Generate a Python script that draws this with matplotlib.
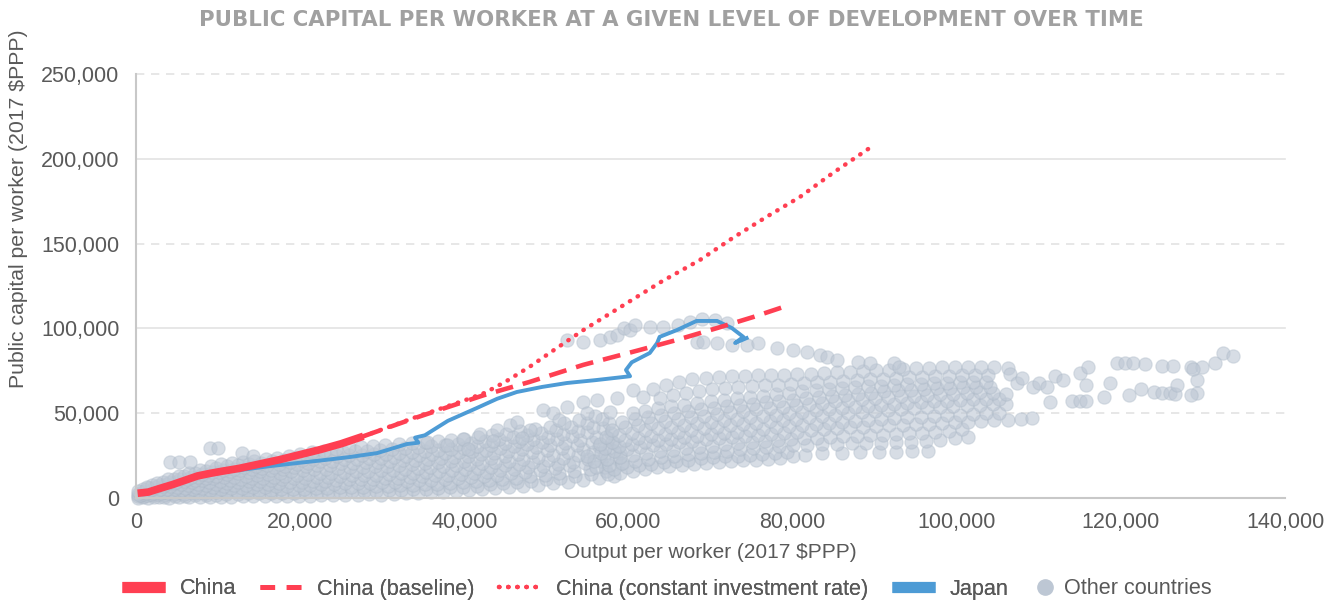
import numpy as np
import matplotlib.pyplot as plt
from matplotlib.lines import Line2D

# all values, in thousands of 2017 $PPP (x = output per worker, y = public capital per worker)
china_x = [0.2, 1.5, 3.0, 4.5, 6.0, 7.5, 9.0, 10.5, 12.5, 15.0, 17.5, 20.0, 22.5, 25.0, 27.7]
china_y = [2.8, 3.5, 5.8, 8.0, 10.5, 13.0, 14.5, 15.8, 17.4, 20.0, 22.6, 25.6, 28.6, 32.0, 36.4]

baseline_x = [27.7, 34.2, 42.3, 48.0, 54.5, 61.4, 65.9, 70.8, 75.2, 79.6]
baseline_y = [36.4, 47.5, 60.5, 68.5, 78.5, 87.3, 93.2, 100.2, 106.7, 113.8]

const_inv_x = [27.7, 34.0, 40.0, 42.5, 45.0, 48.0, 51.0, 54.5, 60.0, 64.0, 68.7, 72.7, 76.8, 80.9, 84.9, 89.4]
const_inv_y = [36.4, 47.5, 57.5, 62.0, 68.5, 77.5, 87.5, 99.0, 115.5, 127.5, 140.3, 153.3, 165.7, 177.5, 191.6, 206.4]

japan_x = [12.7, 16.0, 19.6, 23.0, 26.1, 29.4, 33.0, 34.4, 34.0, 35.2, 38.0, 41.5, 44.0, 46.4, 49.5, 52.5,
           56.0, 59.3, 60.2, 59.7, 60.4, 62.0, 62.6, 63.5, 63.8, 65.9, 68.3, 70.8, 72.6, 74.0, 73.0, 74.4]
japan_y = [16.5, 18.6, 20.6, 22.4, 24.2, 26.5, 31.8, 32.6, 35.6, 37.0, 45.5, 53.0, 58.5, 62.5, 65.5, 67.8,
           69.5, 71.3, 71.8, 75.5, 80.0, 84.0, 85.5, 91.4, 95.0, 99.0, 104.4, 104.4, 100.2, 95.0, 91.4, 94.3]

# other countries, low and middle income block
other_low_1 = [(0.3, 0.2), (1.5, 0.1), (2.8, 0.3), (4.0, 0.2), (5.3, 0.4), (6.5, 0.3), (7.8, 0.5), (9.0, 0.6),
               (10.4, 0.8), (11.6, 0.7), (13.0, 1.0), (14.3, 1.1), (15.7, 1.0), (17.0, 1.2), (18.4, 1.3),
               (19.8, 1.1), (21.2, 1.4), (22.6, 1.6), (24.0, 1.5), (25.5, 1.8), (27.0, 1.9), (28.4, 2.1),
               (29.9, 2.0), (31.4, 2.5), (32.9, 2.8), (34.4, 3.0), (35.9, 3.3), (37.4, 3.6), (39.0, 4.0),
               (40.6, 4.6), (42.2, 5.2), (43.8, 5.7), (45.5, 6.3), (47.2, 7.0), (49.0, 7.8), (50.8, 8.6),
               (52.6, 9.5), (54.5, 10.6), (56.4, 11.8), (58.3, 13.0)]
other_low_1b = [(0.9, 0.4), (2.2, 0.5), (3.4, 0.8), (4.7, 1.0), (6.0, 1.2), (7.2, 1.5), (8.5, 1.7), (9.8, 2.0),
                (11.0, 2.3), (12.4, 2.5), (13.7, 2.7), (15.0, 2.9), (16.4, 3.0), (17.8, 3.1), (19.2, 3.2),
                (20.6, 3.3), (22.0, 3.5), (23.4, 3.7), (24.8, 3.8), (26.3, 4.0), (27.8, 4.2), (29.3, 4.4),
                (30.8, 4.6), (32.3, 4.9), (33.8, 5.3), (35.3, 5.6), (36.8, 6.0), (38.3, 6.3), (39.9, 6.6),
                (41.5, 7.3), (43.1, 8.0), (44.7, 8.7), (46.4, 9.4), (48.1, 10.2), (49.9, 11.0), (51.7, 12.0),
                (53.5, 13.2), (55.4, 14.3), (57.3, 15.8)]
other_low_2 = [(0.9, 1.0), (2.1, 1.5), (3.4, 1.9), (4.6, 2.4), (5.9, 2.4), (7.2, 2.8), (8.4, 3.2), (9.7, 3.6),
               (11.0, 4.0), (12.3, 4.2), (13.7, 4.5), (15.0, 4.6), (16.4, 5.0), (17.7, 5.2), (19.1, 5.3),
               (20.5, 5.6), (21.9, 5.8), (23.3, 6.0), (24.8, 6.2), (26.2, 6.5), (27.7, 6.6), (29.2, 6.9),
               (30.7, 7.0), (32.2, 7.4), (33.7, 7.8), (35.2, 8.1), (36.7, 8.5), (38.2, 8.9), (39.8, 9.3),
               (41.4, 10.0), (43.0, 10.6), (44.6, 11.3), (46.3, 12.0), (48.0, 12.9), (49.8, 13.6), (51.6, 14.8),
               (53.4, 15.8), (55.3, 17.0), (57.2, 18.4), (59.1, 19.8)]
other_low_2b = [(0.2, 1.0), (1.4, 1.5), (2.7, 2.2), (3.9, 2.8), (5.2, 3.4), (6.5, 3.9), (7.7, 4.4), (9.0, 4.9),
                (10.3, 5.5), (11.6, 5.8), (12.9, 6.1), (14.3, 6.4), (15.7, 6.7), (17.0, 7.0), (18.4, 7.3),
                (19.8, 7.5), (21.2, 7.8), (22.6, 8.1), (24.1, 8.4), (25.5, 8.6), (27.0, 8.9), (28.5, 9.1),
                (30.0, 9.3), (31.5, 9.7), (33.0, 10.1), (34.5, 10.4), (36.0, 10.9), (37.6, 11.3), (39.2, 11.7),
                (40.8, 12.3), (42.4, 13.1), (44.0, 13.8), (45.7, 14.7), (47.4, 15.6), (49.2, 16.5), (51.0, 17.8),
                (52.8, 19.2), (54.7, 20.5), (56.6, 22.0), (58.5, 23.6)]
other_low_3 = [(0.5, 1.5), (1.8, 2.4), (3.0, 3.2), (4.3, 4.0), (5.6, 4.6), (6.9, 5.3), (8.1, 6.0), (9.4, 6.6),
               (10.7, 7.0), (12.0, 7.4), (13.4, 7.8), (14.7, 8.1), (16.1, 8.5), (17.4, 8.9), (18.8, 9.2),
               (20.2, 9.6), (21.6, 9.9), (23.0, 10.3), (24.4, 10.6), (25.9, 11.0), (27.4, 11.2), (28.9, 11.4),
               (30.4, 11.7), (31.9, 12.0), (33.4, 12.4), (34.9, 12.9), (36.4, 13.3), (38.0, 13.8), (39.6, 14.2),
               (41.2, 14.8), (42.8, 15.5), (44.4, 16.3), (46.1, 17.2), (47.8, 18.0), (49.6, 19.0), (51.4, 20.0),
               (53.2, 21.4), (55.1, 23.0), (57.0, 24.6), (59.0, 26.4)]
other_low_3b = [(0.9, 2.3), (2.1, 3.2), (3.4, 4.3), (4.7, 5.2), (6.0, 5.9), (7.3, 6.7), (8.5, 7.5), (9.8, 8.3),
                (11.1, 8.9), (12.4, 9.3), (13.8, 9.8), (15.1, 10.1), (16.5, 10.6), (17.8, 11.0), (19.2, 11.5),
                (20.6, 11.9), (22.0, 12.3), (23.4, 12.6), (24.9, 13.0), (26.3, 13.4), (27.8, 13.6), (29.3, 13.8),
                (30.8, 14.1), (32.3, 14.5), (33.8, 15.0), (35.3, 15.5), (36.9, 16.0), (38.5, 16.5), (40.1, 17.0),
                (41.7, 17.6), (43.3, 18.4), (45.0, 19.3), (46.7, 20.2), (48.4, 21.2), (50.2, 22.4), (52.0, 23.8),
                (53.8, 25.4), (55.7, 27.2), (57.6, 29.2)]
other_low_4 = [(1.2, 2.8), (2.5, 4.0), (3.8, 5.2), (5.0, 6.5), (6.3, 7.4), (7.6, 8.3), (8.9, 9.2), (10.2, 10.1),
               (11.5, 10.6), (12.8, 11.0), (14.1, 11.5), (15.5, 12.0), (16.8, 12.4), (18.2, 12.9), (19.6, 13.6),
               (21.0, 14.2), (22.4, 14.6), (23.8, 15.0), (25.3, 15.6), (26.8, 16.0), (28.3, 16.2), (29.8, 16.4),
               (31.3, 16.8), (32.8, 17.2), (34.3, 17.7), (35.8, 18.2), (37.4, 18.6), (39.0, 19.2), (40.6, 19.8),
               (42.2, 20.4), (43.8, 21.2), (45.5, 22.1), (47.2, 23.0), (49.0, 24.2), (50.8, 25.6), (52.6, 27.0),
               (54.5, 28.8), (56.4, 30.6), (58.3, 32.6)]
other_low_4b = [(0.3, 2.6), (1.6, 4.0), (2.9, 5.6), (4.2, 6.9), (5.5, 8.2), (6.8, 9.4), (8.1, 10.6), (9.4, 11.6),
                (10.7, 12.1), (12.0, 12.6), (13.4, 13.2), (14.8, 13.8), (16.1, 14.4), (17.5, 15.0), (18.9, 15.8),
                (20.3, 16.4), (21.7, 16.9), (23.2, 17.3), (24.6, 17.9), (26.1, 18.3), (27.6, 18.5), (29.1, 18.8),
                (30.6, 19.1), (32.1, 19.6), (33.6, 20.1), (35.2, 20.6), (36.8, 21.1), (38.4, 21.7), (40.0, 22.1),
                (41.6, 22.9), (43.2, 23.8), (44.9, 24.7), (46.6, 25.7), (48.3, 26.9), (50.1, 28.1), (51.9, 29.6),
                (53.7, 31.2), (55.6, 33.2), (57.5, 35.6)]
other_low_5 = [(0.8, 3.5), (2.0, 5.6), (3.3, 7.3), (4.6, 8.6), (5.9, 9.8), (7.2, 10.8), (8.5, 12.0), (9.8, 13.2),
               (11.1, 13.9), (12.4, 14.5), (13.8, 15.1), (15.1, 15.7), (16.5, 16.4), (17.9, 17.2), (19.3, 18.0),
               (20.7, 18.6), (22.1, 19.2), (23.6, 19.7), (25.0, 20.4), (26.5, 20.8), (28.0, 21.0), (29.5, 21.3),
               (31.0, 21.7), (32.5, 22.2), (34.0, 22.7), (35.6, 23.2), (37.2, 23.8), (38.8, 24.4), (40.4, 25.0),
               (42.0, 25.8), (43.6, 26.6), (45.3, 27.6), (47.0, 28.6), (48.7, 29.8), (50.5, 31.2), (52.3, 32.6),
               (54.1, 34.4), (56.0, 36.2), (57.9, 38.2)]
other_low_5b = [(1.0, 4.0), (2.3, 6.4), (3.6, 8.4), (4.9, 9.6), (6.2, 11.2), (7.5, 12.4), (8.8, 13.8), (10.1, 15.1),
                (11.4, 15.8), (12.7, 16.3), (14.1, 16.9), (15.4, 17.5), (16.8, 18.4), (18.2, 19.1), (19.6, 20.1),
                (21.0, 20.9), (22.4, 21.6), (23.9, 22.1), (25.4, 22.8), (26.9, 23.2), (28.4, 23.4), (29.9, 23.7),
                (31.4, 24.1), (32.9, 24.6), (34.5, 25.2), (36.1, 25.8), (37.7, 26.4), (39.3, 27.0), (40.9, 27.6),
                (42.6, 28.4), (44.3, 29.4), (46.0, 30.6), (47.7, 31.6), (49.5, 33.0), (51.3, 34.6), (53.1, 36.4),
                (55.0, 38.8), (56.9, 41.2)]
other_low_6 = [(1.5, 5.8), (2.8, 7.8), (4.1, 9.6), (5.4, 11.1), (6.7, 12.5), (8.0, 13.9), (9.3, 15.4), (10.6, 16.8),
               (11.9, 17.3), (13.2, 18.0), (14.6, 18.6), (16.0, 19.3), (17.4, 20.2), (18.8, 21.0), (20.2, 22.4),
               (21.6, 23.0), (23.0, 23.8), (24.5, 24.5), (26.0, 25.3), (27.5, 25.6), (29.0, 25.8), (30.5, 26.1),
               (32.0, 26.6), (33.6, 27.2), (35.2, 27.8), (36.8, 28.4), (38.4, 29.0), (40.0, 29.6), (41.6, 30.4),
               (43.3, 31.3), (45.0, 32.4), (46.7, 33.4), (48.4, 34.6), (50.2, 36.0), (52.0, 37.8), (53.8, 39.6),
               (55.7, 41.8), (57.6, 44.0)]
other_low_6b = [(0.8, 5.2), (2.0, 7.4), (3.3, 9.2), (4.6, 11.3), (5.9, 13.2), (7.2, 14.6), (8.5, 16.2), (9.8, 17.8),
                (11.1, 18.6), (12.4, 19.4), (13.8, 20.0), (15.2, 20.8), (16.6, 21.6), (18.0, 22.4), (19.4, 23.6),
                (20.8, 24.6), (22.2, 25.4), (23.7, 26.2), (25.2, 27.1), (26.7, 27.6), (28.2, 27.9), (29.7, 28.3),
                (31.2, 28.8), (32.8, 29.4), (34.4, 30.0), (36.0, 30.6), (37.6, 31.2), (39.2, 31.8), (40.8, 32.6),
                (42.5, 33.6), (44.2, 34.7), (45.9, 35.8), (47.6, 37.0), (49.4, 38.4), (51.2, 40.0), (53.0, 42.0),
                (54.9, 44.2), (56.8, 46.6)]
other_low_7 = [(0.2, 4.0), (1.4, 6.5), (2.6, 8.6), (3.9, 11.0), (5.2, 13.2), (6.5, 15.0), (7.8, 16.8), (9.1, 18.6),
               (10.4, 19.8), (11.7, 20.6), (13.0, 21.2), (14.4, 22.0), (15.8, 22.8), (17.2, 23.6), (18.6, 24.8),
               (20.0, 26.0), (21.4, 27.2), (22.9, 28.0), (24.4, 29.0), (25.9, 29.8), (27.4, 30.2), (28.9, 30.6),
               (30.4, 31.0), (32.0, 31.6), (33.6, 32.2), (35.2, 32.8), (36.8, 33.5), (38.4, 34.2), (40.0, 35.0),
               (41.7, 36.0), (43.4, 37.0), (45.1, 38.0), (46.8, 39.4), (48.6, 40.6), (50.4, 42.0), (52.2, 44.0),
               (54.0, 46.0), (55.9, 48.4), (57.8, 51.0)]
other_low_outliers = [(4.1, 21.0), (5.2, 21.3), (6.6, 21.0), (9.0, 29.5), (10.0, 29.5), (12.9, 26.5), (14.2, 25.0),
                      (35.5, 33.0), (37.9, 31.0), (39.8, 35.0), (41.9, 38.0), (44.0, 40.0), (45.6, 43.0),
                      (46.4, 45.0), (48.0, 40.0), (49.6, 52.0), (50.8, 50.0), (52.5, 53.6), (54.5, 56.6),
                      (56.2, 58.0), (58.6, 59.0), (60.6, 63.7), (61.8, 59.6), (40.5, 29.0), (43.5, 33.5),
                      (47.0, 35.5), (51.5, 46.0), (55.0, 50.0)]

# other countries, high income block
other_high_1 = [(57.5, 14.0), (59.0, 15.0), (60.5, 16.0), (62.0, 17.0), (63.5, 18.0), (65.0, 18.8), (66.5, 19.5),
                (68.0, 20.2), (69.5, 20.8), (71.0, 21.2), (72.5, 21.8), (74.0, 22.2), (75.5, 22.6), (77.0, 23.0),
                (78.5, 23.6), (80.0, 24.5), (81.5, 25.5), (83.6, 26.5), (86.0, 26.8), (88.2, 27.0), (90.5, 27.0),
                (92.6, 27.3), (94.5, 27.5), (96.5, 27.6)]
other_high_1b = [(58.3, 17.0), (59.8, 18.0), (61.3, 19.2), (62.8, 20.0), (64.3, 21.0), (65.8, 21.8), (67.3, 22.6),
                 (68.8, 23.4), (70.3, 24.0), (71.8, 24.6), (73.3, 25.0), (74.8, 25.6), (76.3, 26.0), (77.8, 26.4),
                 (79.3, 27.0)]
other_high_2 = [(56.0, 18.5), (57.6, 19.6), (59.2, 20.8), (60.8, 22.0), (62.4, 23.0), (64.0, 24.0), (65.6, 25.0),
                (67.2, 25.8), (68.8, 26.6), (70.4, 27.4), (72.0, 28.0), (73.6, 28.6), (75.2, 29.2), (76.8, 29.8),
                (78.4, 30.4), (80.0, 31.0), (81.8, 31.4), (83.6, 31.8), (85.4, 32.0), (87.2, 32.2), (89.0, 32.4),
                (90.8, 32.6), (92.6, 32.8), (94.4, 33.2), (96.2, 33.6), (98.0, 34.4), (99.8, 35.2), (101.4, 36.0)]
other_high_2b = [(55.8, 22.0), (57.4, 23.0), (59.0, 24.2), (60.6, 25.4), (62.2, 26.4), (63.8, 27.6), (65.4, 28.4),
                 (67.0, 29.2), (68.6, 30.0), (70.2, 30.8), (71.8, 31.6), (73.4, 32.2), (75.0, 32.8), (76.6, 33.4),
                 (78.2, 34.0), (79.8, 34.6), (81.4, 35.2), (83.0, 35.6), (84.6, 36.0), (86.2, 36.4), (87.8, 36.8),
                 (89.4, 37.2), (91.0, 37.4), (92.6, 37.8), (94.2, 38.2), (95.8, 38.4), (97.4, 38.8), (99.0, 39.6),
                 (100.6, 40.4)]
other_high_3 = [(55.0, 25.0), (56.6, 26.4), (58.2, 27.8), (59.8, 29.0), (61.4, 30.0), (63.0, 31.0), (64.6, 32.0),
                (66.2, 33.0), (67.8, 33.8), (69.4, 34.6), (71.0, 35.4), (72.6, 36.0), (74.2, 36.8), (75.8, 37.4),
                (77.4, 38.0), (79.0, 38.6), (80.6, 39.2), (82.2, 40.0), (83.8, 40.6), (85.4, 41.0), (87.0, 41.6),
                (88.6, 42.0), (90.2, 42.4), (91.8, 42.8), (93.4, 43.0), (95.0, 43.4), (96.6, 43.8), (98.2, 44.2),
                (99.8, 44.6), (101.4, 45.0), (103.0, 45.4), (104.6, 45.8), (106.2, 46.2), (107.8, 46.6), (109.2, 47.0)]
other_high_3b = [(57.2, 29.6), (58.8, 30.6), (60.4, 31.8), (62.0, 32.8), (63.6, 34.0), (65.2, 35.0), (66.8, 35.8),
                 (68.4, 36.8), (70.0, 37.6), (71.6, 38.4), (73.2, 39.2), (74.8, 40.0), (76.4, 40.8), (78.0, 41.6),
                 (79.6, 42.4), (81.2, 43.0), (82.8, 43.8), (84.4, 44.4), (86.0, 45.0), (87.6, 45.6), (89.2, 46.2),
                 (90.8, 46.8), (92.4, 47.2), (94.0, 47.6), (95.6, 48.0), (97.2, 48.4), (98.8, 48.8), (100.4, 49.2),
                 (102.0, 49.6), (103.6, 50.0), (105.2, 50.4)]
other_high_4 = [(56.5, 32.0), (58.0, 33.2), (59.6, 34.4), (61.2, 35.6), (62.8, 36.8), (64.4, 38.0), (66.0, 39.0),
                (67.6, 40.0), (69.2, 41.0), (70.8, 42.0), (72.4, 42.8), (74.0, 43.6), (75.6, 44.4), (77.2, 45.2),
                (78.8, 46.0), (80.4, 46.8), (82.0, 47.6), (83.6, 48.4), (85.2, 49.2), (86.8, 50.0), (88.4, 50.6),
                (90.0, 51.2), (91.6, 51.8), (93.2, 52.4), (94.8, 53.0), (96.4, 53.4), (98.0, 53.8), (99.6, 54.2),
                (101.2, 54.6), (102.8, 55.0), (104.4, 55.2), (106.0, 55.6)]
other_high_4b = [(57.3, 36.0), (58.8, 37.0), (60.4, 38.6), (62.0, 39.8), (63.6, 41.0), (65.2, 42.0), (66.8, 43.0),
                 (68.4, 44.0), (70.0, 45.0), (71.6, 46.0), (73.2, 46.8), (74.8, 47.6), (76.4, 48.4), (78.0, 49.2),
                 (79.6, 50.0), (81.2, 50.8), (82.8, 51.6), (84.4, 52.4), (86.0, 53.0), (87.6, 53.8), (89.2, 54.4),
                 (90.8, 55.0), (92.4, 55.6), (94.0, 56.0), (95.6, 56.6), (97.2, 57.0), (98.8, 57.4), (100.4, 57.8),
                 (102.0, 58.2), (103.6, 58.4), (105.2, 58.6)]
other_high_5 = [(58.0, 40.0), (59.6, 41.6), (61.2, 43.0), (62.8, 44.2), (64.4, 45.4), (66.0, 46.6), (67.6, 47.6),
                (69.2, 48.6), (70.8, 49.6), (72.4, 50.6), (74.0, 51.4), (75.6, 52.2), (77.2, 53.0), (78.8, 53.8),
                (80.4, 54.6), (82.0, 55.4), (83.6, 56.2), (85.2, 57.0), (86.8, 57.6), (88.4, 58.2), (90.0, 58.8),
                (91.6, 59.4), (93.2, 60.0), (94.8, 60.4), (96.4, 60.8), (98.0, 61.2), (99.6, 61.6), (101.2, 62.0),
                (102.8, 62.4), (104.4, 62.0), (106.0, 61.6)]
other_high_5b = [(59.2, 45.0), (60.8, 46.4), (62.4, 47.8), (64.0, 49.0), (65.6, 50.2), (67.2, 51.2), (68.8, 52.2),
                 (70.4, 53.2), (72.0, 54.0), (73.6, 54.8), (75.2, 55.6), (76.8, 56.4), (78.4, 57.2), (80.0, 58.0),
                 (81.6, 58.8), (83.2, 59.6), (84.8, 60.4), (86.4, 61.0), (88.0, 61.6), (89.6, 62.2), (91.2, 62.8),
                 (92.8, 63.4), (94.4, 63.8), (96.0, 64.2), (97.6, 64.6), (99.2, 65.0), (100.8, 65.2), (102.4, 65.4),
                 (104.0, 65.4)]
other_high_6 = [(60.5, 50.0), (62.0, 51.4), (63.6, 52.8), (65.2, 54.0), (66.8, 55.0), (68.4, 56.0), (70.0, 57.0),
                (71.6, 58.0), (73.2, 58.8), (74.8, 59.6), (76.4, 60.4), (78.0, 61.2), (79.6, 62.0), (81.2, 62.8),
                (82.8, 63.4), (84.4, 64.0), (86.0, 64.6), (87.6, 65.2), (89.2, 65.8), (90.8, 66.2), (92.4, 66.6),
                (94.0, 67.0), (95.6, 67.4), (97.2, 67.8), (98.8, 68.0), (100.4, 68.2), (102.0, 68.4), (103.6, 68.6)]
other_high_6b = [(63.8, 59.0), (65.4, 60.6), (67.0, 62.0), (68.6, 63.0), (70.2, 64.0), (71.8, 64.8), (73.4, 65.4),
                 (75.0, 66.0), (76.6, 66.4), (78.2, 66.8), (79.8, 67.4), (81.4, 67.8), (83.0, 68.2), (84.6, 68.6),
                 (86.2, 69.0), (87.8, 69.6), (89.4, 70.0), (91.0, 70.4), (92.6, 70.8), (94.2, 71.2), (95.8, 71.6),
                 (97.4, 72.0), (99.0, 72.2), (100.6, 72.4), (102.2, 72.6), (103.8, 72.8)]
other_high_7 = [(63.0, 64.0), (64.6, 66.5), (66.2, 68.5), (67.8, 70.0), (69.4, 71.0), (71.0, 71.6), (72.6, 72.0),
                (74.2, 72.2), (75.8, 72.4), (77.4, 72.6), (79.0, 72.8), (80.6, 73.0), (82.2, 73.2), (83.8, 73.6),
                (85.4, 74.0), (87.0, 74.4), (88.6, 74.8), (90.2, 75.2), (91.8, 75.6), (93.4, 76.0), (95.0, 76.4),
                (96.6, 76.8), (98.2, 77.0), (99.8, 77.2), (101.4, 77.4), (103.0, 77.2), (104.6, 77.0), (106.2, 76.6)]
other_upper = [(52.5, 93.0), (54.5, 92.0), (56.5, 93.0), (57.7, 95.0), (58.6, 96.0), (59.5, 100.0), (60.2, 99.0),
               (60.8, 102.0), (62.6, 101.0), (64.2, 100.8), (66.0, 102.0), (67.5, 104.0), (69.0, 105.5),
               (70.5, 105.0), (72.0, 103.0), (68.4, 92.0), (69.1, 92.0), (70.8, 91.4), (72.6, 90.2), (74.4, 90.2),
               (75.8, 91.4), (78.1, 88.4), (80.0, 87.3), (81.7, 86.0), (83.3, 84.3), (84.2, 83.0), (85.4, 81.4),
               (88.0, 80.0), (89.4, 79.6), (92.3, 79.6), (93.0, 77.2)]
other_rich = [(106.5, 73.0), (107.4, 67.8), (108.0, 70.5), (109.3, 65.4), (110.0, 68.0), (111.0, 65.4),
              (111.4, 56.6), (112.0, 72.0), (113.0, 69.6), (114.0, 57.0), (115.0, 57.0), (115.8, 57.0),
              (115.0, 73.7), (115.8, 66.6), (116.0, 77.2), (118.0, 59.6), (118.7, 67.8), (119.5, 79.5),
              (120.5, 79.8), (121.5, 79.5), (123.0, 79.2), (121.0, 61.0), (122.5, 64.0), (124.0, 62.5),
              (125.0, 62.0), (126.0, 61.8), (126.6, 61.5), (126.8, 66.6), (125.0, 78.0), (126.4, 77.6),
              (128.6, 77.2), (129.9, 77.4), (129.3, 69.6), (129.3, 61.9), (131.5, 79.6), (132.5, 85.5),
              (133.7, 84.0), (128.8, 76.0), (128.5, 60.5)]

other_groups = [other_low_1, other_low_1b, other_low_2, other_low_2b, other_low_3, other_low_3b, other_low_4,
                other_low_4b, other_low_5, other_low_5b, other_low_6, other_low_6b, other_low_7,
                other_low_outliers, other_high_1, other_high_1b, other_high_2, other_high_2b, other_high_3,
                other_high_3b, other_high_4, other_high_4b, other_high_5, other_high_5b, other_high_6,
                other_high_6b, other_high_7, other_upper, other_rich]

x_ticks = [0, 20000, 40000, 60000, 80000, 100000, 120000, 140000]
y_ticks = [0, 50000, 100000, 150000, 200000, 250000]

red = '#ff3f52'
blue = '#4d9bd5'
grey_face = (0.74, 0.78, 0.83, 0.6)
grey_edge = (0.66, 0.71, 0.77, 0.35)
text_grey = '#595959'

plt.rcParams['font.family'] = ['Liberation Sans', 'DejaVu Sans']

fig = plt.figure(figsize=(13.43, 6.0), dpi=100)
ax = fig.add_axes([136 / 1343, 1 - 498 / 600, (1285 - 136) / 1343, (498 - 74) / 600])

other_pts = np.array([p for g in other_groups for p in g]) * 1000
ax.scatter(other_pts[:, 0], other_pts[:, 1], s=92, facecolors=[grey_face], edgecolors=[grey_edge],
           linewidths=0.9, zorder=2, clip_on=False)

ax.plot(np.array(japan_x) * 1000, np.array(japan_y) * 1000, color=blue, lw=2.8, zorder=3,
        solid_joinstyle='round')
ax.plot(np.array(const_inv_x) * 1000, np.array(const_inv_y) * 1000, color=red, lw=3.2,
        linestyle=(0, (0.1, 1.95)), dash_capstyle='round', zorder=4)
ax.plot(np.array(baseline_x) * 1000, np.array(baseline_y) * 1000, color=red, lw=3.3,
        linestyle=(0, (3.9, 2.2)), zorder=4)
ax.plot(np.array(china_x) * 1000, np.array(china_y) * 1000, color=red, lw=5.5, zorder=5,
        solid_capstyle='butt')

# grid: dashed at odd multiples of 50k, solid at multiples of 100k
for v in y_ticks[1:]:
    ls = '-' if v % 100000 == 0 else (0, (5, 4))
    ax.axhline(v, color='#e3e3e3', lw=1.2, ls=ls, zorder=1, clip_on=False)

ax.set_xlim(0, 140000)
ax.set_ylim(0, 250000)
ax.set_xticks(x_ticks)
ax.set_yticks(y_ticks)
ax.set_xticklabels([f'{v:,}' for v in x_ticks])
ax.set_yticklabels([f'{v:,}' for v in y_ticks])
ax.tick_params(length=0, labelsize=15.5, labelcolor=text_grey)
ax.tick_params(axis='x', pad=10)
ax.tick_params(axis='y', pad=12)
for side in ['top', 'right']:
    ax.spines[side].set_visible(False)
for side in ['left', 'bottom']:
    ax.spines[side].set_color('#c8c8c8')
    ax.spines[side].set_linewidth(1.5)

fig.text(0.5, 1 - 20 / 600, 'PUBLIC CAPITAL PER WORKER AT A GIVEN LEVEL OF DEVELOPMENT OVER TIME',
         ha='center', va='center', fontsize=15.3, fontweight='bold', color='#a0a0a0',
         family=['DejaVu Sans'])
fig.text(710 / 1343, 1 - 553 / 600, 'Output per worker (2017 $PPP)', ha='center', va='center',
         fontsize=15, color=text_grey)
fig.text(19 / 1343, 1 - 388 / 600, 'Public capital per worker (2017 $PPP)', ha='center', va='bottom',
         rotation=90, fontsize=15.3, color=text_grey)

# legend: the four line entries share one handle length, the dot entry has a short one
line_handles = [
    Line2D([], [], color=red, lw=8, solid_capstyle='butt'),
    Line2D([], [], color=red, lw=3.5, linestyle=(0, (3, 2.4))),
    Line2D([], [], color=red, lw=3.2, linestyle=(0, (0.1, 1.95)), dash_capstyle='round'),
    Line2D([], [], color=blue, lw=8, solid_capstyle='butt'),
]
line_labels = ['China', 'China (baseline)', 'China (constant investment rate)', 'Japan']
dot_handle = Line2D([], [], color=grey_face[:3], marker='o', lw=0, markersize=11)

leg = fig.legend(line_handles, line_labels, loc='center left', bbox_to_anchor=(122 / 1343, 1 - 589 / 600),
                 ncol=4, frameon=False, fontsize=15.6, handlelength=2.0, columnspacing=1.1,
                 handletextpad=0.65, labelcolor=text_grey, borderpad=0, borderaxespad=0)
fig.add_artist(leg)
fig.legend([dot_handle], ['Other countries'], loc='center left', bbox_to_anchor=(1036 / 1343, 1 - 589 / 600),
           frameon=False, fontsize=15.6, handlelength=0.8, handletextpad=0.5, labelcolor=text_grey,
           borderpad=0, borderaxespad=0)

fig.savefig('out.png', dpi=100)
